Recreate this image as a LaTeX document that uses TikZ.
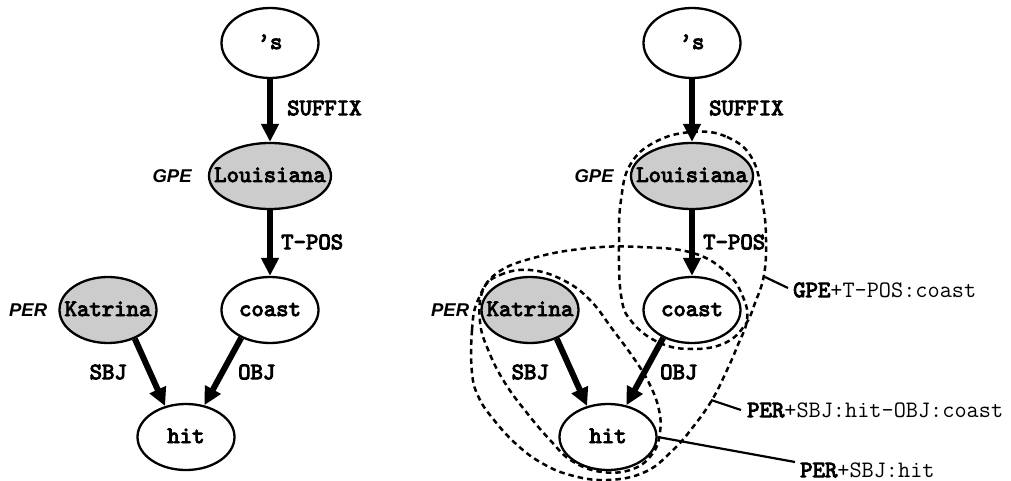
\documentclass[tikz,border=0pt]{standalone}
\usepackage{fontspec}
\newfontfamily\tagfont{Liberation Sans}
\newfontfamily\heavytt{lmmono10-regular.otf}[FakeBold=4]
\usetikzlibrary{arrows.meta,shapes.geometric}

\tikzset{
  word/.style={ellipse, draw, line width=2.3pt, fill=white, inner sep=0pt,
    text height=12pt, text depth=0pt,
    font=\heavytt\fontsize{23.6}{28}\selectfont,
    minimum width=97pt, minimum height=66pt},
  ent/.style={word, fill=gray!40},
  rel/.style={-{Triangle[length=18pt,width=17pt]}, line width=6pt},
  rellabel/.style={font=\heavytt\fontsize{23.6}{28}\selectfont, inner sep=0pt},
  etype/.style={font=\tagfont\bfseries\itshape\fontsize{18.5}{22}\selectfont, inner sep=0pt, anchor=east},
  region/.style={line width=2.5pt, dash pattern=on 5.5pt off 4pt},
  leader/.style={line width=2.2pt},
  pathlabel/.style={font=\ttfamily\fontsize{23.6}{28}\selectfont, anchor=west, inner sep=0pt},
}

\begin{document}
\begin{tikzpicture}[x=1pt, y=-1pt]
\useasboundingbox (0,0) rectangle (1011,481);

% ---------- plain dependency graph ----------
\node[word, minimum height=70pt] (s1) at (270,43) {\makebox[0pt]{’s}};
\node[ent, minimum width=122pt] (lou1) at (270,176) {\makebox[0pt]{Louisiana}};
\node[word] (coast1) at (270,310) {\makebox[0pt]{coast}};
\node[ent] (kat1) at (108,310) {\makebox[0pt]{Katrina}};
\node[word] (hit1) at (186,437) {\makebox[0pt]{hit}};

\draw[rel] (s1) -- (lou1);
\draw[rel] (lou1) -- (coast1);
\draw[rel] (kat1.-47) -- (hit1.124);
\draw[rel] (coast1.-136) -- (hit1.60);

\node[rellabel, anchor=west] (suf1) at (287,108) {SUFFIX};
\node[rellabel, anchor=west] (tpos1) at (281,242) {T-POS};
\node[rellabel, anchor=east] (sbj1) at (127,372) {SBJ};
\node[rellabel, anchor=west] (obj1) at (238,372) {OBJ};

\node[etype] (gpe1) at ([xshift=-16pt]lou1.west) {GPE};
\node[etype] (per1) at ([xshift=-11pt]kat1.west) {PER};

% ---------- same graph with its subgraph paths ----------
\node[word, minimum height=70pt] (s2) at (692,43) {\makebox[0pt]{’s}};
\node[ent, minimum width=122pt] (lou2) at (692,176) {\makebox[0pt]{Louisiana}};
\node[word] (coast2) at (692,310) {\makebox[0pt]{coast}};
\node[ent] (kat2) at (530,310) {\makebox[0pt]{Katrina}};
\node[word] (hit2) at (608,437) {\makebox[0pt]{hit}};

\draw[rel] (s2) -- (lou2);
\draw[rel] (lou2) -- (coast2);
\draw[rel] (kat2.-47) -- (hit2.124);
\draw[rel] (coast2.-136) -- (hit2.60);

\node[rellabel, anchor=west] (suf2) at (709,108) {SUFFIX};
\node[rellabel, anchor=west] (tpos2) at (703,242) {T-POS};
\node[rellabel, anchor=east] (sbj2) at (549,372) {SBJ};
\node[rellabel, anchor=west] (obj2) at (660,372) {OBJ};

\node[etype] (gpe2) at ([xshift=-16pt]lou2.west) {GPE};
\node[etype] (per2) at ([xshift=-11pt]kat2.west) {PER};

% GPE + T-POS : coast
\draw[region] plot[smooth cycle, tension=0.7] coordinates {
  (692,132) (727,137) (753,160) (763,205) (766,240) (764,275) (755,303)
  (745,325) (725,343) (693,349) (660,343) (632,322) (621,295) (619,240)
  (621,200) (630,165) (655,142)};

% PER + SBJ : hit - OBJ : coast
\draw[region] plot[smooth cycle, tension=0.7] coordinates {
  (472,373) (472,330) (478,300) (497,273) (537,257) (590,248) (640,247)
  (693,253) (727,273) (743,297) (747,320) (737,347) (727,370) (712,400)
  (693,427) (673,450) (645,472) (607,480) (570,475) (540,462) (515,443)
  (494,420) (479,398)};

% PER + SBJ : hit
\draw[region] plot[smooth cycle, tension=0.7] coordinates {
  (483,290) (500,275) (530,270) (563,280) (590,300) (613,330) (635,360)
  (650,385) (659,410) (660,432) (653,453) (633,469) (602,472) (572,461)
  (550,440) (527,413) (505,383) (489,352) (480,322)};

\coordinate (gpeTouch) at (765,277);
\coordinate (bigTouch) at (711,400);

\node[pathlabel] (lblGPE) at (793,290) {{\heavytt GPE}+T-POS:coast};
\node[pathlabel] (lblBig) at (747,410) {{\heavytt PER}+SBJ:hit-OBJ:coast};
\node[pathlabel] (lblSmall) at (800,470) {{\heavytt PER}+SBJ:hit};

\draw[leader] (gpeTouch) -- ([xshift=-5pt,yshift=2pt]lblGPE.west);
\draw[leader] (bigTouch) -- ([xshift=-6pt]lblBig.west);
\draw[leader] (hit2.east) -- ([xshift=-5pt,yshift=8pt]lblSmall.west);
\end{tikzpicture}
\end{document}
